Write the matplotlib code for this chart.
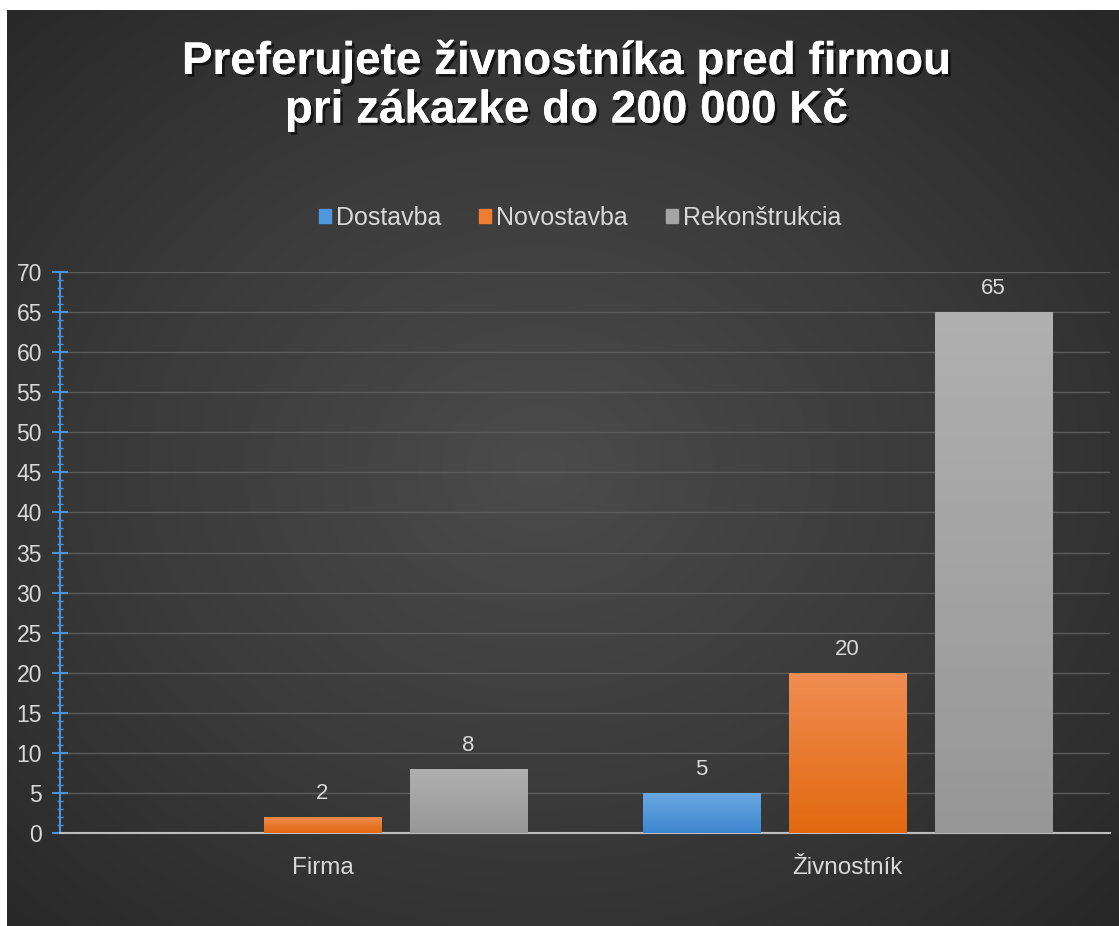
import numpy as np
import matplotlib
matplotlib.use('Agg')
import matplotlib.pyplot as plt
from matplotlib.colors import LinearSegmentedColormap
from matplotlib import patheffects as pe

categories = ['Firma', 'Živnostník']
series_names = ['Dostavba', 'Novostavba', 'Rekonštrukcia']
dostavba = [0, 5]
novostavba = [2, 20]
rekonstrukcia = [8, 65]
y_ticks = list(range(0, 71, 5))

title = 'Preferujete živnostníka pred firmou\npri zákazke do 200 000 Kč'

# (top colour, bottom colour) for the bar gradients
bar_colors = [('#6aa8e2', '#3e86cf'), ('#f08d52', '#e2690f'), ('#b0b0b0', '#979797')]
legend_colors = ['#4f97dc', '#ee7d33', '#a5a5a5']
text_col = '#d9d9d9'

plt.rcParams['font.family'] = ['Liberation Sans', 'DejaVu Sans']

W, H = 1119, 926
fig = plt.figure(figsize=(W / 100, H / 100), dpi=100)
fig.patch.set_facecolor('white')

# dark background with a soft radial glow (leaves the white strip top and left)
bg = fig.add_axes([7 / W, 0, 1 - 7 / W, 1 - 10 / H])
yy, xx = np.mgrid[0:1:400j, 0:1:400j]
r = np.sqrt(((xx - 0.48) / 0.75) ** 2 + ((yy - 0.5) / 0.75) ** 2)
bg_cmap = LinearSegmentedColormap.from_list('bg', ['#4b4b4b', '#3a3a3a', '#262626'])
bg.imshow(np.clip(r, 0, 1), cmap=bg_cmap, aspect='auto', extent=[0, 1, 0, 1], vmin=0, vmax=1)
bg.set_axis_off()

# plot area in pixel coordinates
x0, x1 = 60, 1110
y0, y1 = 833, 272
ax = fig.add_axes([x0 / W, 1 - y0 / H, (x1 - x0) / W, (y0 - y1) / H])
ax.patch.set_alpha(0)

x = np.arange(len(categories))
step = 0.278
width = 0.223
series = [dostavba, novostavba, rekonstrukcia]

for i, (vals, (ctop, cbot)) in enumerate(zip(series, bar_colors)):
    cmap = LinearSegmentedColormap.from_list('g%d' % i, [cbot, ctop])
    grad = np.linspace(0, 1, 256).reshape(-1, 1)
    for xi, v in zip(x, vals):
        if v <= 0:
            continue
        xc = xi + (i - 1) * step
        bar = ax.bar(xc, v, width, color=ctop, zorder=3)[0]
        im = ax.imshow(grad, cmap=cmap, origin='lower', aspect='auto',
                       extent=[xc - width / 2, xc + width / 2, 0, v], zorder=3)
        im.set_clip_path(bar)
        ax.text(xc, v + 1.6, str(v), ha='center', va='bottom', color=text_col, fontsize=16)

ax.set_xlim(-0.5, 1.5)
ax.set_ylim(0, 70)
ax.set_yticks(y_ticks)
ax.set_yticks(range(0, 71), minor=True)
ax.set_xticks(x)
ax.set_xticklabels(categories)
ax.grid(axis='y', color='#5c5c5c', linewidth=1, zorder=0)

for s in ['top', 'right']:
    ax.spines[s].set_visible(False)
ax.spines['left'].set_color('#4a94dc')
ax.spines['left'].set_linewidth(1.5)
ax.spines['bottom'].set_color('#bdbdbd')
ax.spines['bottom'].set_linewidth(1.5)

ax.tick_params(axis='y', which='major', direction='inout', length=12, width=1.5,
               color='#4a94dc', labelcolor=text_col, labelsize=16.5, pad=7)
ax.tick_params(axis='y', which='minor', direction='inout', length=5, width=1,
               color='#4a94dc')
ax.tick_params(axis='x', length=0, labelcolor=text_col, labelsize=17.5, pad=17)

# legend
handles = [plt.Rectangle((0, 0), 1, 1, color=c) for c in legend_colors]
fig.legend(handles, series_names, loc='center', bbox_to_anchor=(580 / W, 1 - 218 / H),
           ncol=3, frameon=False, fontsize=18, labelcolor=text_col,
           handlelength=0.5, handleheight=0.5, handletextpad=0.2, columnspacing=1.5)

# title
fig.text(567 / W, 1 - 86 / H, title, ha='center', va='center', color='white',
         fontsize=33, fontweight='bold', linespacing=1.1,
         path_effects=[pe.withSimplePatchShadow(offset=(2, -2), shadow_rgbFace='black', alpha=0.6),
                       pe.Normal()])

fig.savefig('out.png', dpi=100)
